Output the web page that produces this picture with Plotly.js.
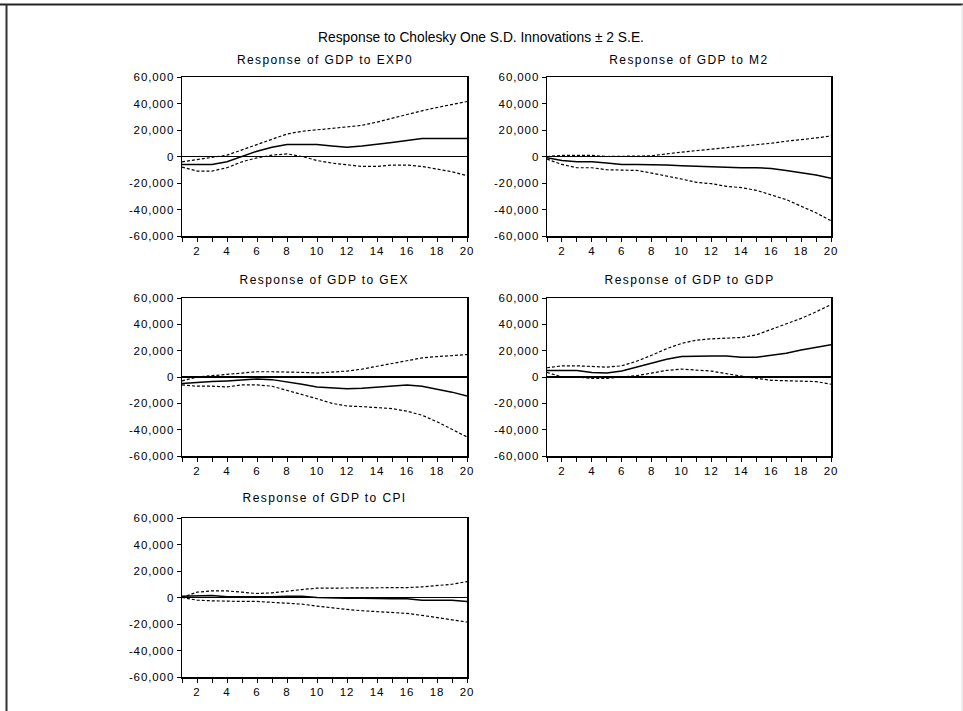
<!DOCTYPE html>
<html>
<head>
<meta charset="utf-8">
<script src="https://cdn.plot.ly/plotly-3.0.1.min.js"></script>
<style>
html,body{margin:0;padding:0;background:#fff;}
#chart{width:963px;height:711px;}
#chart .annotation-text{letter-spacing:1.4px;}
#chart .xtick text, #chart .ytick text, #chart .x2tick text, #chart .y2tick text,
#chart .x3tick text, #chart .y3tick text, #chart .x4tick text, #chart .y4tick text,
#chart .x5tick text, #chart .y5tick text{letter-spacing:0.9px;}
</style>
</head>
<body>
<div id="chart"></div>
<script>
const periods = [1,2,3,4,5,6,7,8,9,10,11,12,13,14,15,16,17,18,19,20];
const panelTitles = ["Response of GDP to EXP0","Response of GDP to M2","Response of GDP to GEX","Response of GDP to GDP","Response of GDP to CPI"];

const exp0Resp  = [-6000,-6000,-6000,-4000,0,4000,7000,9000,9000,9000,8000,7000,8000,9000,10500,12000,13500,13500,13500,13500];
const exp0Upper = [-4000,-2500,-1000,1000,5000,9000,13000,17000,19000,20000,21000,22000,23500,26000,29000,32000,34500,37000,39000,41500];
const exp0Lower = [-8000,-11000,-11000,-8500,-4000,-1000,1000,2000,0,-3000,-5000,-6500,-7500,-7500,-6500,-6500,-7500,-9500,-11500,-14500];

const m2Resp  = [-1000,-3000,-4000,-4000,-5000,-6000,-6000,-6000,-6500,-7000,-7500,-7500,-8000,-8500,-8500,-9000,-10500,-12000,-14000,-16500];
const m2Upper = [0,800,800,800,0,0,0,500,2000,3500,4500,5500,6500,7500,8500,10000,11500,12500,14000,15500];
const m2Lower = [-2000,-6000,-8500,-8500,-10000,-10000,-10500,-12500,-14500,-17000,-19500,-20500,-22500,-23500,-25500,-29000,-32500,-37500,-42500,-48500];

const gexResp  = [-5000,-4000,-3500,-3000,-2000,-1500,-2000,-3500,-5500,-7500,-8500,-9000,-8500,-7500,-6500,-6000,-7000,-9000,-11500,-14500];
const gexUpper = [-3000,0,1000,2000,3500,4000,4000,4000,3500,3000,3500,4500,6000,8000,10000,12500,14500,15500,16000,17000];
const gexLower = [-6000,-7000,-7000,-7500,-6000,-6000,-7000,-10000,-13500,-16500,-20000,-22000,-22500,-23000,-24000,-26000,-29000,-34000,-39500,-45500];

const gdpResp  = [5000,5000,5000,3500,3000,4500,7500,10500,13500,15500,16000,16000,16000,15000,15000,16500,18000,20500,22500,24500];
const gdpUpper = [7000,8500,8500,8000,7500,8500,12000,16500,21500,25500,28000,29000,29500,30000,32000,36000,40000,44500,49500,55000];
const gdpLower = [3500,0,0,-1000,-1000,0,1000,3000,5000,6000,5000,4500,2500,500,-1000,-2500,-3000,-3000,-3500,-5500];

const cpiResp  = [1000,1500,1500,500,500,0,500,1000,1000,0,-500,-500,-500,-1000,-1000,-1000,-2000,-2000,-2000,-3000];
const cpiUpper = [0,4000,5000,5000,4000,3000,3500,5000,6000,7000,7000,7000,7000,7000,7000,7500,8000,9000,10000,12000];
const cpiLower = [0,-2000,-2500,-3000,-3000,-3000,-3500,-4000,-5000,-6500,-8000,-9000,-10000,-10500,-11000,-12000,-13500,-15000,-16500,-18500];

const yTickVals = [-60000,-40000,-20000,0,20000,40000,60000];
const yTickText = ["-60,000","-40,000","-20,000","0","20,000","40,000","60,000"];
const xTickText = periods.map(p => p % 2 === 0 ? String(p) : "");

const panels = [
  {resp: exp0Resp, up: exp0Upper, lo: exp0Lower},
  {resp: m2Resp, up: m2Upper, lo: m2Lower},
  {resp: gexResp, up: gexUpper, lo: gexLower},
  {resp: gdpResp, up: gdpUpper, lo: gdpLower},
  {resp: cpiResp, up: cpiUpper, lo: cpiLower}
];

const W = 963, H = 711;
const boxes = [
  [182,467,77,236],
  [547,831,77,236],
  [182,467,298,456],
  [547,831,298,456],
  [182,467,518,677]
];
const titleY = [60, 60, 280, 280, 498];

const FONT = "Liberation Sans, Arial, sans-serif";
const traces = [];
const layout = {
  width: W, height: H,
  margin: {l:0, r:0, t:0, b:0},
  paper_bgcolor: "#fff", plot_bgcolor: "#fff",
  showlegend: false,
  font: {family: FONT, color: "#000", size: 11},
  title: {
    text: "Response to Cholesky One S.D. Innovations \u00b1 2 S.E.",
    xref: "paper", yref: "container", x: 481/W, y: 1 - 37/H,
    xanchor: "center", yanchor: "middle",
    font: {family: FONT, size: 13.8, color: "#000"}
  },
  annotations: [],
  shapes: []
};

panels.forEach((p, i) => {
  const n = i + 1;
  const xa = n === 1 ? "x" : "x" + n;
  const ya = n === 1 ? "y" : "y" + n;
  const b = boxes[i];
  [p.up, p.lo].forEach(arr => traces.push({
    x: periods, y: arr, xaxis: xa, yaxis: ya, mode: "lines", type: "scatter",
    line: {color: "#000", width: 1.2, dash: "3px,2px"}, hoverinfo: "skip"
  }));
  traces.push({
    x: periods, y: p.resp, xaxis: xa, yaxis: ya, mode: "lines", type: "scatter",
    line: {color: "#000", width: 1.5}, hoverinfo: "skip"
  });
  layout["xaxis" + (n === 1 ? "" : n)] = {
    domain: [b[0]/W, b[1]/W], anchor: ya, range: [1, 20],
    tickmode: "array", tickvals: periods, ticktext: xTickText,
    ticks: "outside", ticklen: 4, tickwidth: 1, tickcolor: "#000",
    showgrid: false, zeroline: false, showline: true, linecolor: "#000", linewidth: 1.5,
    mirror: true, tickfont: {family: FONT, size: 11.5, color: "#000"}
  };
  layout["yaxis" + (n === 1 ? "" : n)] = {
    domain: [1 - b[3]/H, 1 - b[2]/H], anchor: xa, range: [-60000, 60000],
    tickmode: "array", tickvals: yTickVals, ticktext: yTickText,
    ticks: "outside", ticklen: 4, tickwidth: 1, tickcolor: "#000",
    showgrid: false, showline: true, linecolor: "#000", linewidth: 1.5, mirror: true,
    zeroline: true, zerolinecolor: "#000", zerolinewidth: 1.5,
    tickfont: {family: FONT, size: 11.5, color: "#000"}
  };
  layout.annotations.push({
    text: panelTitles[i], xref: "paper", yref: "paper",
    x: (b[0] + b[1]) / 2 / W, y: 1 - titleY[i] / H, xanchor: "center", yanchor: "middle",
    showarrow: false, font: {family: FONT, size: 12, color: "#000"}
  });
});

layout.shapes.push(
  {type: "line", xref: "paper", yref: "paper", x0: 0, x1: 1, y0: 1 - 4.5/H, y1: 1 - 4.5/H, line: {color: "#222", width: 2}},
  {type: "line", xref: "paper", yref: "paper", x0: 6.5/W, x1: 6.5/W, y0: 0, y1: 1 - 4.5/H, line: {color: "#333", width: 2}},
  {type: "line", xref: "paper", yref: "paper", x0: 962/W, x1: 962/W, y0: 0, y1: 1 - 4.5/H, line: {color: "#ddd", width: 1}}
);

Plotly.newPlot("chart", traces, layout, {staticPlot: true, displayModeBar: false});
</script>
</body>
</html>
